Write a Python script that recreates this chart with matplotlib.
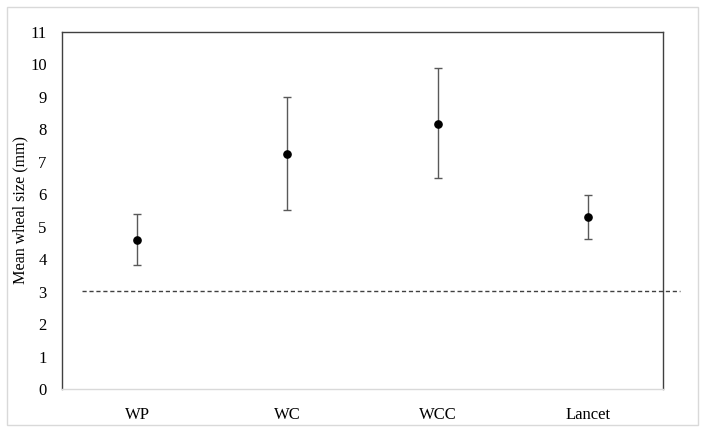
import matplotlib
matplotlib.use("Agg")
import matplotlib.pyplot as plt
from matplotlib.patches import Rectangle

matplotlib.rcParams["font.family"] = ["Liberation Serif", "DejaVu Serif"]

# ── Data ──
groups = ["WP", "WC", "WCC", "Lancet"]
means = [4.60, 7.23, 8.17, 5.29]
upper = [5.40, 8.99, 9.90, 5.99]
lower = [3.82, 5.51, 6.49, 4.63]
cutoff = 3.03
y_ticks = list(range(0, 12))

fig = plt.figure(figsize=(7.05, 4.29), dpi=100)
ax = fig.add_axes([62 / 705, 1 - 389 / 429, 601 / 705, 357 / 429])

# outer frame round the whole chart
fig.patches.append(Rectangle((7 / 705, 4 / 429), 691 / 705, 418 / 429,
                             transform=fig.transFigure, fill=False,
                             edgecolor="#d9d9d9", linewidth=1.0))

x = list(range(len(groups)))
err_lo = [m - l for m, l in zip(means, lower)]
err_hi = [u - m for m, u in zip(means, upper)]
ax.errorbar(x, means, yerr=[err_lo, err_hi], fmt="o", color="black",
            markersize=5.2, ecolor="#595959", elinewidth=1.0,
            capsize=3, capthick=1.0, zorder=3)

# dashed cut-off line, runs a little past the right border
ax.plot([-0.37, 3.61], [cutoff, cutoff], linestyle=(0, (3, 2)),
        color="#404040", linewidth=1.0, clip_on=False, zorder=2)

ax.set_xlim(-0.5, 3.5)
ax.set_ylim(0, 11)
ax.set_xticks(x)
ax.set_xticklabels(groups, fontsize=12)
ax.set_yticks(y_ticks)
ax.set_yticklabels([str(t) for t in y_ticks], fontsize=12)
ax.tick_params(axis="both", length=0)
ax.tick_params(axis="x", pad=13)
ax.tick_params(axis="y", pad=11)
ax.set_ylabel("Mean wheal size (mm)", fontsize=11.6)
ax.yaxis.set_label_coords(-0.056, 0.5)

for side in ["left", "top", "right"]:
    ax.spines[side].set_color("#404040")
    ax.spines[side].set_linewidth(1.0)
ax.spines["bottom"].set_color("#d9d9d9")
ax.spines["bottom"].set_linewidth(1.0)

plt.savefig("out.png", dpi=100)
plt.close()
